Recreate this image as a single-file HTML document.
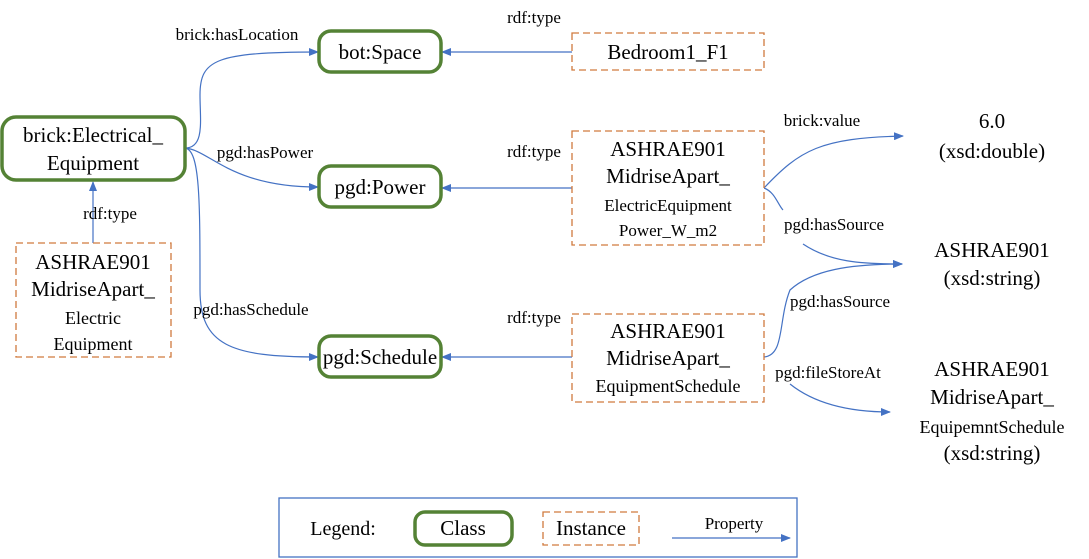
<!DOCTYPE html>
<html><head><meta charset="utf-8"><style>html,body{margin:0;padding:0;background:#fff}svg{display:block}svg text{font-family:"Liberation Serif","Times New Roman",Tinos,"DejaVu Serif",serif}</style></head>
<body>
<svg width="1089" height="559" viewBox="0 0 1089 559" xmlns="http://www.w3.org/2000/svg" fill="#000">
<defs><marker id="a" markerWidth="10" markerHeight="8" refX="9" refY="4" orient="auto" markerUnits="userSpaceOnUse"><path d="M0,0 L10,4 L0,8 z" fill="#4472c4"/></marker></defs>
<g fill="none" stroke="#4472c4" stroke-width="1.2" marker-end="url(#a)">
<path d="M185,148 C205,148 200,120 200,95 C200,60 215,52 318,52"/>
<path d="M185,148 C210,150 230,187 318,187"/>
<path d="M185,148 C200,150 200,200 200,290 C200,345 230,357 318,357"/>
<path d="M572,52 L442,52"/>
<path d="M572,188 L442,188"/>
<path d="M572,357 L442,357"/>
<path d="M93,243 L93,182"/>
<path d="M764,188 C800,150 820,138 903,136"/>
<path d="M764,188 C775,192 778,205 783,210 M803,244 C830,262 860,264 902,264"/>
<path d="M764,357 C785,355 778,320 790,290 C812,270 850,264 902,264"/>
<path d="M790,384 C810,400 840,412 890,412"/>
<path d="M672,538 L790,538"/>
</g>
<g fill="#fff" stroke="#548235" stroke-width="3.5">
<rect x="319" y="31" width="122" height="41" rx="12"/>
<rect x="2" y="117" width="183" height="63" rx="14"/>
<rect x="319" y="166" width="122" height="41" rx="12"/>
<rect x="319" y="336" width="122" height="41" rx="12"/>
<rect x="415" y="512" width="97" height="33" rx="10"/>
</g>
<g fill="#fff" stroke="#d07a3e" stroke-width="1.3" stroke-dasharray="7,4">
<rect x="572" y="33" width="192" height="37"/>
<rect x="572" y="131" width="192" height="114"/>
<rect x="572" y="314" width="192" height="88"/>
<rect x="16" y="243" width="155" height="114"/>
<rect x="543" y="512" width="96" height="33"/>
</g>
<rect x="279" y="498" width="518" height="59" fill="none" stroke="#4472c4" stroke-width="1.3"/>
<g text-anchor="middle" font-size="21">
<text x="380" y="59">bot:Space</text>
<text x="668" y="59">Bedroom1_F1</text>
<text x="93" y="142">brick:Electrical_</text>
<text x="93" y="170">Equipment</text>
<text x="380" y="194">pgd:Power</text>
<text x="380" y="364">pgd:Schedule</text>
<text x="668" y="156">ASHRAE901</text>
<text x="668" y="183">MidriseApart_</text>
<text x="668" y="211" font-size="17">ElectricEquipment</text>
<text x="668" y="236" font-size="17">Power_W_m2</text>
<text x="668" y="338">ASHRAE901</text>
<text x="668" y="365">MidriseApart_</text>
<text x="668" y="392" font-size="18">EquipmentSchedule</text>
<text x="93" y="269">ASHRAE901</text>
<text x="93" y="296">MidriseApart_</text>
<text x="93" y="324" font-size="18">Electric</text>
<text x="93" y="350" font-size="18">Equipment</text>
<text x="992" y="128">6.0</text>
<text x="992" y="158">(xsd:double)</text>
<text x="992" y="257">ASHRAE901</text>
<text x="992" y="285">(xsd:string)</text>
<text x="992" y="376">ASHRAE901</text>
<text x="992" y="404">MidriseApart_</text>
<text x="992" y="433" font-size="18">EquipemntSchedule</text>
<text x="992" y="460">(xsd:string)</text>
<text x="463" y="535">Class</text>
<text x="591" y="535">Instance</text>
</g>
<g text-anchor="middle" font-size="17">
<text x="237" y="40">brick:hasLocation</text>
<text x="265" y="158">pgd:hasPower</text>
<text x="251" y="315">pgd:hasSchedule</text>
<text x="534" y="23">rdf:type</text>
<text x="534" y="157">rdf:type</text>
<text x="534" y="323">rdf:type</text>
<text x="110" y="219">rdf:type</text>
<text x="822" y="126">brick:value</text>
<text x="834" y="230">pgd:hasSource</text>
<text x="840" y="307">pgd:hasSource</text>
<text x="828" y="378">pgd:fileStoreAt</text>
<text x="734" y="529">Property</text>
</g>
<text x="343" y="535" text-anchor="middle" font-size="20">Legend:</text>
</svg>
</body></html>
